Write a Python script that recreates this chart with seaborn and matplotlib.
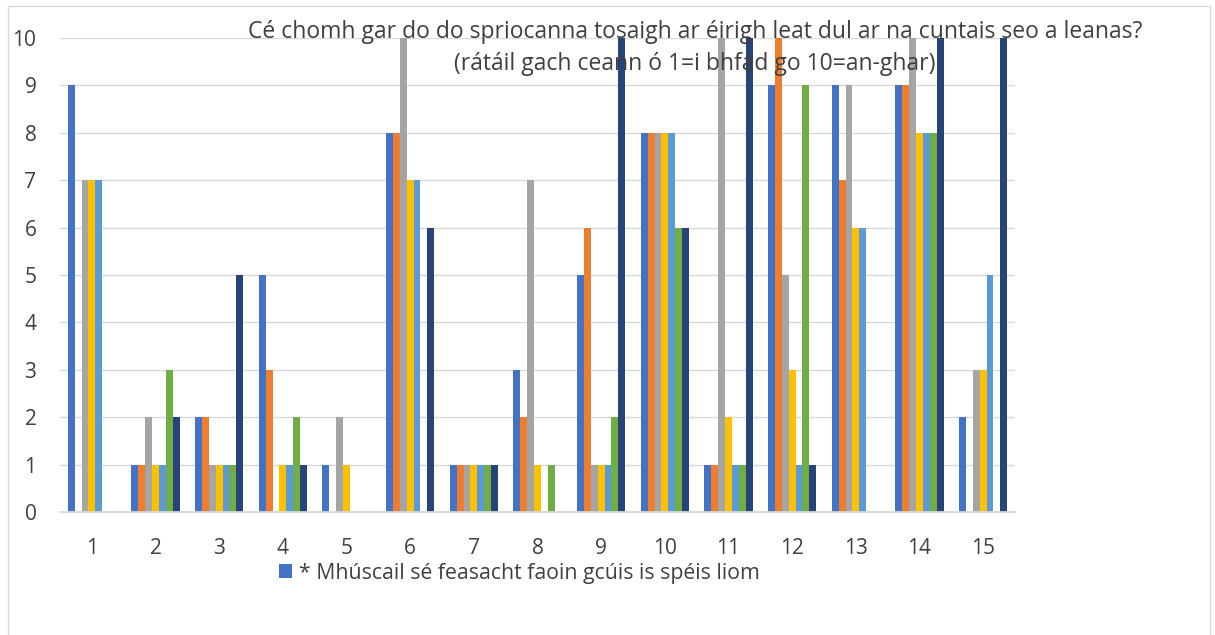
import numpy as np
import pandas as pd
import seaborn as sns
import matplotlib
matplotlib.use("Agg")
import matplotlib.pyplot as plt
from matplotlib.patches import Rectangle, Patch
from matplotlib.lines import Line2D

categories = [str(i) for i in range(1, 16)]
series_names = ["* Mhúscail sé feasacht faoin gcúis is spéis liom",
                "Sraith 2", "Sraith 3", "Sraith 4", "Sraith 5", "Sraith 6", "Sraith 7"]
s1 = [9, 1, 2, 5, 1, 8, 1, 3, 5, 8, 1, 9, 9, 9, 2]
s2 = [0, 1, 2, 3, 0, 8, 1, 2, 6, 8, 1, 10, 7, 9, 0]
s3 = [7, 2, 1, 0, 2, 10, 1, 7, 1, 8, 10, 5, 9, 10, 3]
s4 = [7, 1, 1, 1, 1, 7, 1, 1, 1, 8, 2, 3, 6, 8, 3]
s5 = [7, 1, 1, 1, 0, 7, 1, 0, 1, 8, 1, 1, 6, 8, 5]
s6 = [0, 3, 1, 2, 0, 0, 1, 1, 2, 6, 1, 9, 0, 8, 0]
s7 = [0, 2, 5, 1, 0, 6, 1, 0, 10, 6, 10, 1, 0, 10, 10]
colors = ["#4472C4", "#ED7D31", "#A5A5A5", "#FFC000", "#5B9BD5", "#70AD47", "#264478"]
title = "Cé chomh gar do do spriocanna tosaigh ar éirigh leat dul ar na cuntais seo a leanas?\n(rátáil gach ceann ó 1=i bhfad go 10=an-ghar)"

rows = []
for name, vals in zip(series_names, [s1, s2, s3, s4, s5, s6, s7]):
    for c, v in zip(categories, vals):
        rows.append({"grp": c, "val": v, "series": name})
df = pd.DataFrame(rows)

sns.set_theme(style="white")
plt.rcParams["font.family"] = ["Open Sans", "DejaVu Sans"]
txt_color = "#404040"

fig = plt.figure(figsize=(12.15, 6.35), dpi=100)
# outer chart border (left, top, right)
for xs, ys in [([8, 8], [0, 629]), ([8, 1210], [629, 629]), ([1210, 1210], [0, 629])]:
    fig.add_artist(Line2D([x / 1215 for x in xs], [y / 635 for y in ys],
                          transform=fig.transFigure, color="#D9D9D9", linewidth=1))

ax = fig.add_axes([60 / 1215, 123 / 635, 955 / 1215, 474 / 635])
sns.barplot(data=df, x="grp", y="val", hue="series", palette=colors,
            width=0.755, dodge=True, ax=ax, legend=False, saturation=1, linewidth=0)

ax.set_ylim(0, 10)
ax.set_yticks(range(0, 11))
ax.set_xlim(-0.5, 14.5)
ax.yaxis.grid(True, color="#D9D9D9", linewidth=1)
ax.set_axisbelow(True)
for s in ["top", "right", "left"]:
    ax.spines[s].set_visible(False)
ax.spines["bottom"].set_color("#D9D9D9")
ax.tick_params(axis="both", length=0, labelsize=15, colors=txt_color)
ax.tick_params(axis="x", pad=19)
ax.tick_params(axis="y", pad=17)
ax.set_xlabel("")
ax.set_ylabel("")

fig.text(0.572, 1 - 20 / 635, title, ha="center", va="top", fontsize=16.5, color=txt_color,
         linespacing=1.45)

handles = [Patch(facecolor=colors[0], edgecolor="none")]
fig.legend(handles, [series_names[0]], loc="center left",
           bbox_to_anchor=(268 / 1215, 1 - 573 / 635),
           frameon=False, fontsize=15.3, handlelength=0.65, handleheight=0.65,
           handletextpad=0.3, labelcolor=txt_color, borderpad=0)

fig.savefig("out.png", dpi=100)
